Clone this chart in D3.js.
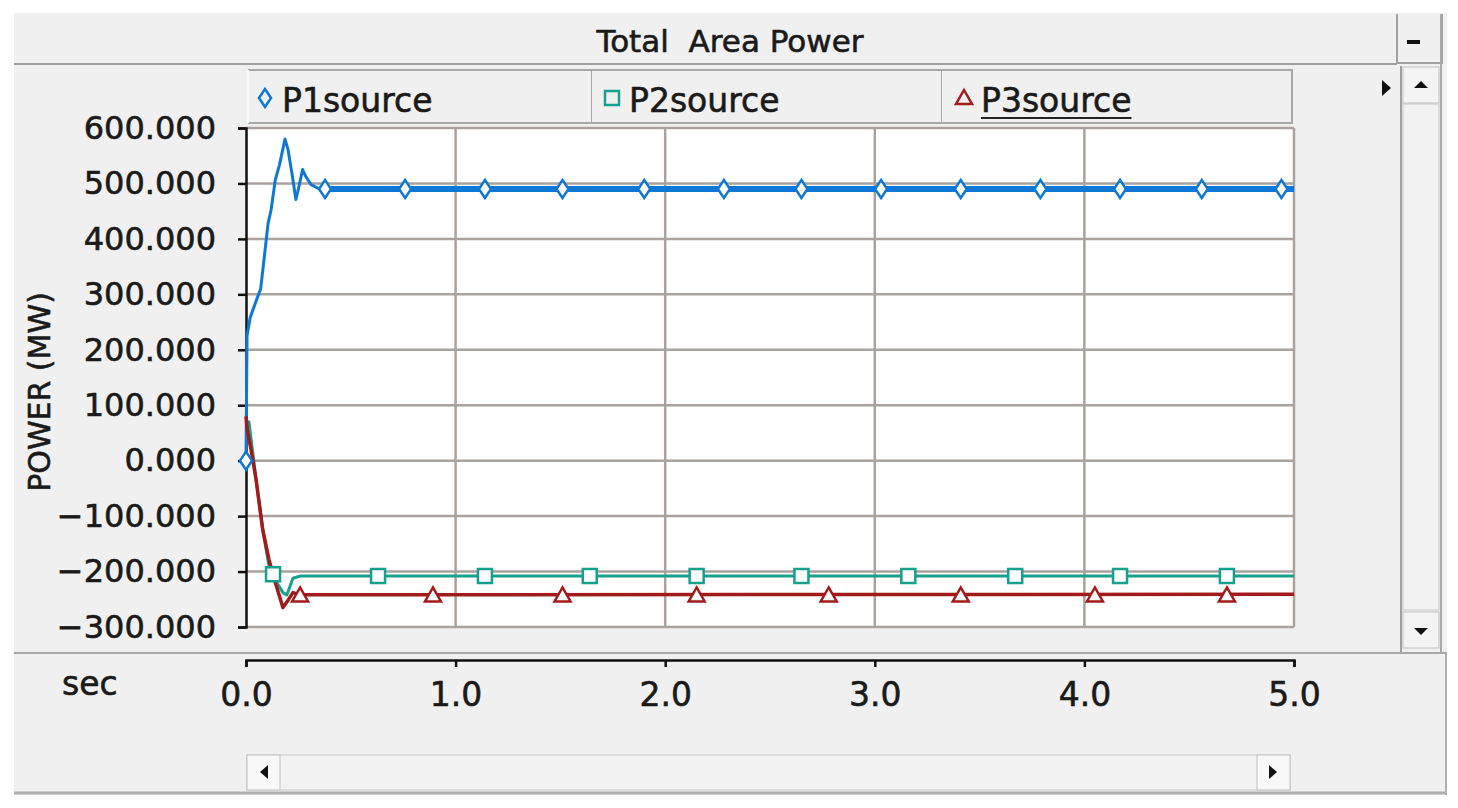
<!DOCTYPE html>
<html>
<head>
<meta charset="utf-8">
<script src="https://cdn.jsdelivr.net/npm/d3@7"></script>
<style>
  body { margin: 0; background: #fff; }
  text { font-family: "DejaVu Sans", sans-serif; fill: #1a1a1a; stroke: #1a1a1a; stroke-width: 0.6px; white-space: pre; }
</style>
</head>
<body>
<div id="chart"></div>
<script>
// time (sec), power (MW)
const p1Series = [
  [0, 0], [0.005, 225], [0.02, 258], [0.05, 290], [0.07, 310], [0.086, 363],
  [0.105, 427], [0.12, 453], [0.14, 507], [0.16, 534], [0.186, 580],
  [0.2, 562], [0.22, 516], [0.238, 471], [0.25, 490], [0.27, 525],
  [0.286, 512], [0.31, 498], [0.35, 490], [5.0, 490]
];
const p2Series = [
  [0, 60], [0.014, 70], [0.048, -34], [0.08, -125], [0.11, -191],
  [0.133, -211], [0.176, -238], [0.195, -242], [0.224, -212],
  [0.26, -208], [5.0, -208]
];
const p3Series = [
  [0, 80], [0.006, 56], [0.024, 20], [0.048, -34], [0.08, -125],
  [0.11, -179], [0.143, -224], [0.176, -265], [0.2, -252],
  [0.224, -238], [0.26, -242], [5.0, -241]
];
const p1Markers = [
  [0, 0], [0.377, 490], [0.759, 490], [1.14, 490], [1.51, 490], [1.9, 490],
  [2.28, 490], [2.65, 490], [3.03, 490], [3.41, 490], [3.79, 490],
  [4.17, 490], [4.56, 490], [4.94, 490]
];
const p2Markers = [
  [0.129, -205], [0.63, -208], [1.14, -208], [1.64, -208], [2.15, -208],
  [2.65, -208], [3.16, -208], [3.67, -208], [4.17, -208], [4.68, -208]
];
const p3Markers = [
  [0.258, -243], [0.892, -243], [1.51, -243], [2.15, -243], [2.78, -243],
  [3.41, -243], [4.05, -243], [4.68, -243]
];
const seriesNames = ['P1source', 'P2source', 'P3source'];
const yTicks = [-300, -200, -100, 0, 100, 200, 300, 400, 500, 600];
const xTicks = [0, 1, 2, 3, 4, 5];

const colors = ['#0f78d6', '#17a08c', '#a31a1a'];
const W = 1458, H = 808;

const svg = d3.select('#chart').append('svg')
  .attr('width', W).attr('height', H);

// window frame
svg.append('rect').attr('x', 14).attr('y', 13).attr('width', 1433).attr('height', 782)
  .attr('fill', '#f0f0f0');
// title bar line
svg.append('line').attr('x1', 14).attr('x2', 1397).attr('y1', 64).attr('y2', 64)
  .attr('stroke', '#a0a0a0').attr('stroke-width', 2);
// minimize button
svg.append('path').attr('d', 'M1397,14V63H1442V14')
  .attr('fill', '#f0f0f0').attr('stroke', '#a0a0a0').attr('stroke-width', 2);
svg.append('rect').attr('x', 1407).attr('y', 40).attr('width', 13).attr('height', 4).attr('fill', '#111');

svg.append('text').attr('x', 730).attr('y', 52).attr('text-anchor', 'middle')
  .style('font-size', '31px').text('Total  Area Power');

const x = d3.scaleLinear().domain([0, 5]).range([246, 1294]);
const y = d3.scaleLinear().domain([-300, 600]).range([627, 128]);

// legend cells
const cellX = [248, 592, 942, 1292];
const legend = svg.append('g');
seriesNames.forEach((name, i) => {
  legend.append('path')
    .attr('d', `M${cellX[i]},70H${cellX[i + 1]}V123H${cellX[i]}`)
    .attr('fill', '#f0f0f0').attr('stroke', '#a8a8a8').attr('stroke-width', 2);
});
legend.append('line').attr('x1', 248).attr('x2', 248).attr('y1', 70).attr('y2', 123)
  .attr('stroke', '#fafafa').attr('stroke-width', 2);

// arrow right of legend
svg.append('path').attr('d', 'M1382,80L1391,88L1382,96Z').attr('fill', '#111');

// plot area
svg.append('rect').attr('x', x(0)).attr('y', y(600))
  .attr('width', x(5) - x(0)).attr('height', y(-300) - y(600)).attr('fill', '#fff');

const grid = svg.append('g').attr('stroke', '#a9a29e').attr('stroke-width', 2.5);
grid.selectAll('.hg').data(yTicks).enter().append('line')
  .attr('x1', x(0)).attr('x2', x(5)).attr('y1', d => y(d)).attr('y2', d => y(d));
grid.selectAll('.vg').data(xTicks.slice(1)).enter().append('line')
  .attr('x1', d => x(d)).attr('x2', d => x(d)).attr('y1', y(600)).attr('y2', y(-300));

// y axis
const yAxis = svg.append('g').attr('transform', `translate(${x(0)},0)`)
  .call(d3.axisLeft(y).tickValues(yTicks).tickFormat(d3.format('.3f'))
    .tickSize(8).tickPadding(22));
yAxis.select('.domain').attr('stroke', '#111').attr('stroke-width', 2.5);
yAxis.selectAll('.tick line').attr('stroke', '#111').attr('stroke-width', 2.5);
yAxis.selectAll('text').style('font-size', '32px').style('font-family', '"DejaVu Sans", sans-serif')
  .attr('fill', '#1a1a1a');

svg.append('text').attr('transform', 'translate(50,392) rotate(-90)')
  .attr('text-anchor', 'middle').style('font-size', '30px').text('POWER (MW)');

// series
const line = d3.line().x(d => x(d[0])).y(d => y(d[1]));
const allSeries = [p1Series, p2Series, p3Series];
const widths = [3, 3, 3.5];
allSeries.forEach((s, i) => {
  svg.append('path').datum(s).attr('d', line).attr('fill', 'none')
    .attr('stroke', colors[i]).attr('stroke-width', widths[i])
    .attr('stroke-linejoin', 'round');
});
// settled part of P1 is drawn thicker (noisy trace)
svg.append('path').datum(p1Series.filter(d => d[0] >= 0.33)).attr('d', line)
  .attr('fill', 'none').attr('stroke', colors[0]).attr('stroke-width', 6);

// markers
const symbols = [
  'M0,-9L6,0L0,9L-6,0Z',
  'M-7,-7H7V7H-7Z',
  'M0,-8L8,6H-8Z'
];
[p1Markers, p2Markers, p3Markers].forEach((m, i) => {
  svg.append('g').selectAll('path').data(m).enter().append('path')
    .attr('transform', d => `translate(${x(d[0])},${y(d[1])})`)
    .attr('d', symbols[i]).attr('fill', '#fff')
    .attr('stroke', colors[i]).attr('stroke-width', 2.5);
});

// legend entries
const legendMarkX = [265, 612, 964];
seriesNames.forEach((name, i) => {
  legend.append('path').attr('transform', `translate(${legendMarkX[i]},98)`)
    .attr('d', symbols[i]).attr('fill', 'none')
    .attr('stroke', colors[i]).attr('stroke-width', 2.5);
  const t = legend.append('text').attr('x', legendMarkX[i] + 17).attr('y', 112)
    .style('font-size', '33px').text(name);
  if (i === 2) {
    const len = t.node().getComputedTextLength();
    legend.append('line').attr('x1', legendMarkX[i] + 17).attr('x2', legendMarkX[i] + 17 + len)
      .attr('y1', 118).attr('y2', 118).attr('stroke', '#222').attr('stroke-width', 2);
  }
});

// vertical scrollbar
const vs = svg.append('g');
vs.append('line').attr('x1', 1401).attr('x2', 1401).attr('y1', 66).attr('y2', 652)
  .attr('stroke', '#a0a0a0').attr('stroke-width', 2);
vs.append('rect').attr('x', 1403).attr('y', 104).attr('width', 36).attr('height', 506)
  .attr('fill', '#f2f2f2').attr('stroke', '#c8c8c8');
vs.append('rect').attr('x', 1403).attr('y', 67).attr('width', 36).attr('height', 36)
  .attr('fill', '#f4f4f4').attr('stroke', '#c0c0c0');
vs.append('rect').attr('x', 1403).attr('y', 612).attr('width', 36).attr('height', 36)
  .attr('fill', '#f4f4f4').attr('stroke', '#c0c0c0');
vs.append('path').attr('d', 'M1414,88L1421,81L1428,88Z').attr('fill', '#111');
vs.append('path').attr('d', 'M1414,628L1421,635L1428,628Z').attr('fill', '#111');
svg.append('line').attr('x1', 1441).attr('x2', 1441).attr('y1', 14).attr('y2', 652)
  .attr('stroke', '#a8a8a8').attr('stroke-width', 2);

// separator above x axis
svg.append('line').attr('x1', 14).attr('x2', 1447).attr('y1', 653).attr('y2', 653)
  .attr('stroke', '#a8a8a8').attr('stroke-width', 2);

// x axis
const xAxis = svg.append('g').attr('transform', 'translate(0,660)')
  .call(d3.axisBottom(x).tickValues(xTicks).tickFormat(d3.format('.1f'))
    .tickSize(7).tickPadding(16));
xAxis.select('.domain').attr('stroke', '#111').attr('stroke-width', 2.5);
xAxis.selectAll('.tick line').attr('stroke', '#111').attr('stroke-width', 2.5);
xAxis.selectAll('text').style('font-size', '33px').style('font-family', '"DejaVu Sans", sans-serif')
  .attr('fill', '#1a1a1a');

svg.append('text').attr('x', 62).attr('y', 695).style('font-size', '33px').text('sec');

// horizontal scrollbar
const hs = svg.append('g');
hs.append('rect').attr('x', 247).attr('y', 755).attr('width', 1043).attr('height', 35)
  .attr('fill', '#f2f2f2').attr('stroke', '#c8c8c8');
hs.append('rect').attr('x', 247).attr('y', 755).attr('width', 33).attr('height', 35)
  .attr('fill', '#f8f8f8').attr('stroke', '#c0c0c0');
hs.append('rect').attr('x', 1257).attr('y', 755).attr('width', 33).attr('height', 35)
  .attr('fill', '#f8f8f8').attr('stroke', '#c0c0c0');
hs.append('path').attr('d', 'M268,765L260,772L268,779Z').attr('fill', '#111');
hs.append('path').attr('d', 'M1269,765L1277,772L1269,779Z').attr('fill', '#111');
svg.append('line').attr('x1', 14).attr('x2', 1447).attr('y1', 793).attr('y2', 793)
  .attr('stroke', '#b0b0b0').attr('stroke-width', 3);
svg.append('line').attr('x1', 1446).attr('x2', 1446).attr('y1', 653).attr('y2', 795)
  .attr('stroke', '#b0b0b0').attr('stroke-width', 2);
</script>
</body>
</html>
